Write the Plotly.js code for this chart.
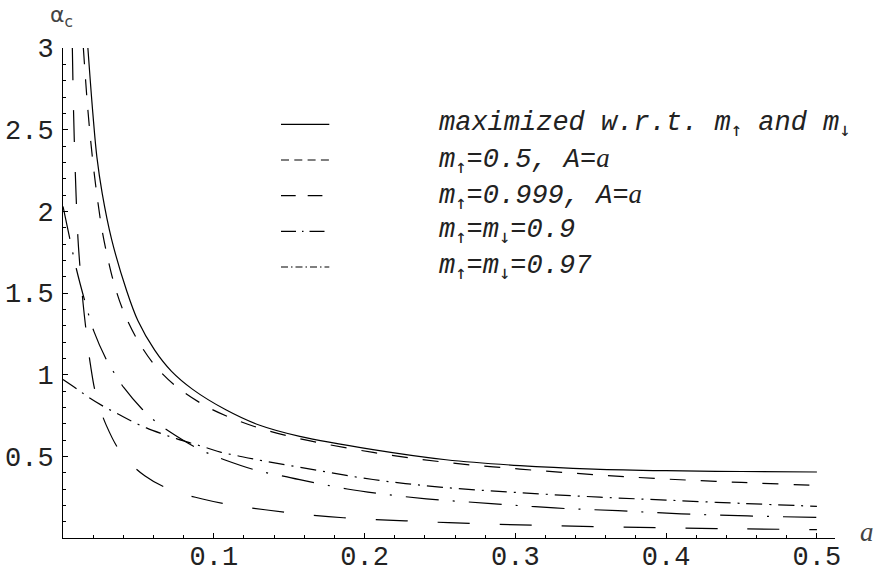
<!DOCTYPE html>
<html>
<head>
<meta charset="utf-8">
<script src="https://cdn.plot.ly/plotly-3.0.1.min.js"></script>
<style>html,body{margin:0;padding:0;background:#fff;}#chart{width:874px;height:574px;}</style>
</head>
<body>
<div id="chart"></div>
<script>
// ---- data ----
const UP = "<sub><span style=\"font-family:'DejaVu Sans Mono'\">↑</span></sub>";
const DN = "<sub><span style=\"font-family:'DejaVu Sans Mono'\">↓</span></sub>";
const AA = "<span style=\"font-family:'Liberation Serif'\">a</span>";
const seriesNames = [
  "maximized w.r.t. m" + UP + " and m" + DN,
  "m" + UP + "=0.5, A=" + AA,
  "m" + UP + "=0.999, A=" + AA,
  "m" + UP + "=m" + DN + "=0.9",
  "m" + UP + "=m" + DN + "=0.97"
];
const aMax = [0.0165,0.0198,0.0225,0.026,0.0322,0.042,0.0497,0.0608,0.072,0.086,0.108,0.1305,0.157,0.2056,0.254,0.303,0.352,0.40,0.45,0.50];
const vMax = [3.0,2.6,2.33,2.11,1.83,1.52,1.33,1.15,1.02,0.91,0.785,0.69,0.622,0.541,0.479,0.443,0.422,0.412,0.407,0.404];

const aHalf = [0.0135,0.0165,0.0195,0.0225,0.026,0.030,0.0338,0.040,0.0502,0.062,0.0755,0.095,0.114,0.133,0.157,0.2056,0.254,0.303,0.352,0.40,0.45,0.50];
const vHalf = [3.0,2.62,2.33,2.10,1.88,1.70,1.56,1.39,1.20,1.045,0.925,0.806,0.726,0.665,0.608,0.524,0.463,0.422,0.388,0.361,0.340,0.322];

const aHigh = [0.0062,0.0070,0.0082,0.0099,0.0114,0.0133,0.0155,0.0182,0.0221,0.0288,0.0387,0.0542,0.0726,0.0925,0.113,0.134,0.157,0.186,0.227,0.27,0.313,0.355,0.40,0.45,0.50];
const vHigh = [3.0,2.612,2.225,1.837,1.643,1.439,1.255,1.061,0.867,0.688,0.52,0.381,0.291,0.239,0.20,0.173,0.147,0.124,0.105,0.089,0.078,0.069,0.062,0.056,0.051];

const aSym90 = [0.0,0.0048,0.0088,0.0148,0.0205,0.0294,0.0347,0.0404,0.0524,0.062,0.0703,0.0874,0.0985,0.107,0.128,0.147,0.157,0.1885,0.2105,0.241,0.284,0.326,0.368,0.41,0.454,0.5];
const vSym90 = [2.03,1.82,1.65,1.44,1.265,1.081,1.0,0.92,0.79,0.708,0.653,0.557,0.51,0.479,0.415,0.377,0.357,0.30,0.271,0.240,0.211,0.184,0.167,0.148,0.135,0.126];

const aSym97 = [0.0,0.0099,0.0177,0.0276,0.0365,0.0458,0.0553,0.0653,0.0752,0.0852,0.095,0.105,0.1155,0.126,0.157,0.2056,0.25,0.30,0.356,0.40,0.45,0.50];
const vSym97 = [0.97,0.908,0.857,0.802,0.759,0.714,0.674,0.639,0.608,0.58,0.553,0.524,0.504,0.484,0.433,0.358,0.312,0.279,0.25,0.232,0.212,0.194];

const xTickVals = [0.1,0.2,0.3,0.4,0.5];
const xTickText = ["0.1","0.2","0.3","0.4","0.5"];
const yTickVals = [0.5,1,1.5,2,2.5,3];
const yTickText = ["0.5","1","1.5","2","2.5","3"];

// ---- styles ----
const curveDash = ["solid","16px,15px","32px,30px","33px,14px,2px,14px","16px,7px,2px,7px"];
const legendDash = ["solid","8px,5.3px","14.7px,12px","15px,6px,1.5px,6px","7px,3px,1.5px,3px"];
const ink = "#000";

const xs = [aMax,aHalf,aHigh,aSym90,aSym97];
const ys = [vMax,vHalf,vHigh,vSym90,vSym97];
const traces = xs.map((x,i)=>({
  x:x, y:ys[i], type:"scatter", mode:"lines",
  line:{color:ink, width:1.2, dash:curveDash[i], shape:"spline", smoothing:1},
  hoverinfo:"skip", showlegend:false
}));

// pixel -> paper helpers (plot area 63..835 x 48..538)
const PL=63, PR=835, PT=48, PB=538;
const px = v => (v-PL)/(PR-PL);
const py = v => (PB-v)/(PB-PT);

const rowsY = [124.3,160,195.7,231.3,267];
const shapes = rowsY.map((yy,i)=>({
  type:"line", xref:"paper", yref:"paper",
  x0:px(281), x1:px(329.3), y0:py(yy), y1:py(yy),
  line:{color:ink, width:1.2, dash:legendDash[i]}
}));
const monoFont = {family:"'Liberation Mono', 'DejaVu Sans Mono', monospace", size:27, color:"#222"};
const annotations = rowsY.map((yy,i)=>({
  xref:"paper", yref:"paper", x:px(437), y:py(yy), xanchor:"left", yanchor:"middle",
  text:"<i>"+seriesNames[i]+"</i>", showarrow:false, font:monoFont
}));
annotations.push({xref:"paper", yref:"paper", x:px(61), y:py(16), xanchor:"center", yanchor:"middle",
  text:"α<sub>c</sub>", showarrow:false, font:{family:"'DejaVu Sans', sans-serif", size:22, color:"#444"}});
annotations.push({xref:"paper", yref:"paper", x:px(867), y:py(532), xanchor:"center", yanchor:"middle",
  text:"<i>a</i>", showarrow:false, font:{family:"'Liberation Serif', serif", size:27, color:"#444"}});

const layout = {
  width:874, height:574,
  margin:{l:PL, r:874-PR, t:PT, b:574-PB, pad:0},
  paper_bgcolor:"#fff", plot_bgcolor:"#fff",
  showlegend:false,
  xaxis:{range:[0,0.512], showgrid:false, zeroline:false, showline:true, linecolor:ink, linewidth:1,
    tickmode:"array", tickvals:xTickVals, ticktext:xTickText, ticks:"inside", ticklen:5, tickcolor:ink, tickwidth:1,
    minor:{tickmode:"linear", tick0:0, dtick:0.02, ticks:"inside", ticklen:3, tickcolor:ink, tickwidth:1, showgrid:false},
    tickfont:monoFont, ticklabelstandoff:-6, fixedrange:true},
  yaxis:{range:[0,3], showgrid:false, zeroline:false, showline:true, linecolor:ink, linewidth:1,
    tickmode:"array", tickvals:yTickVals, ticktext:yTickText, ticks:"inside", ticklen:5, tickcolor:ink, tickwidth:1,
    minor:{tickmode:"linear", tick0:0, dtick:0.1, ticks:"inside", ticklen:3, tickcolor:ink, tickwidth:1, showgrid:false},
    tickfont:monoFont, ticklabelstandoff:3, fixedrange:true},
  shapes:shapes,
  annotations:annotations
};
Plotly.newPlot("chart", traces, layout, {staticPlot:true, displayModeBar:false});
</script>
</body>
</html>
